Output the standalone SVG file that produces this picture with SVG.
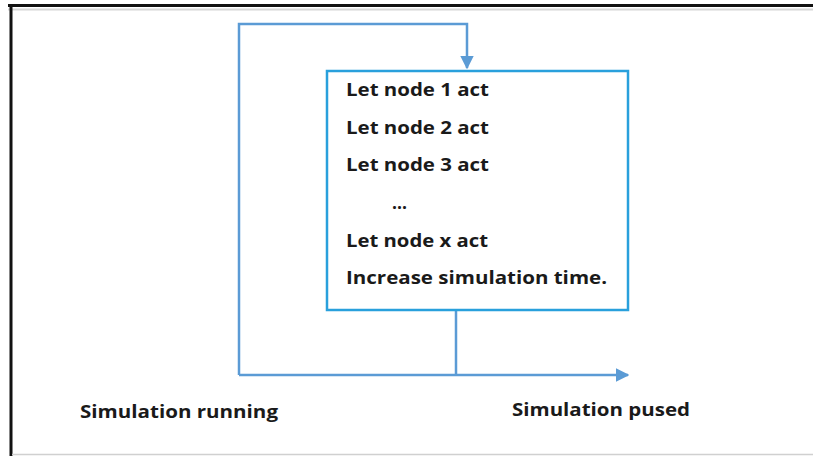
<svg xmlns="http://www.w3.org/2000/svg" width="813" height="456" viewBox="0 0 813 456">
  <style>
    .t { font-family: "Open Sans", "Liberation Sans", sans-serif; font-weight: bold; font-size: 17px; fill: #1a1a1a; }
    .wire { fill: none; stroke: #5b9bd5; stroke-width: 2.5; }
  </style>
  <defs>
    <marker id="head" viewBox="0 0 10 10" refX="9" refY="5" markerWidth="5.5" markerHeight="5.5" markerUnits="strokeWidth" orient="auto">
      <path d="M0,0 L10,5 L0,10 Z" fill="#5b9bd5"/>
    </marker>
  </defs>
  <rect width="813" height="456" fill="#ffffff"/>
  <!-- page frame -->
  <line x1="8" y1="5.5" x2="813" y2="5.5" stroke="#111" stroke-width="3"/>
  <line x1="8" y1="9.5" x2="813" y2="9.5" stroke="#d6d6d6" stroke-width="2"/>
  <line x1="11" y1="4" x2="11" y2="456" stroke="#111" stroke-width="3"/>
  <line x1="12" y1="454.5" x2="813" y2="454.5" stroke="#d0d0d0" stroke-width="1.5"/>

  <g id="connectors">
    <path class="wire" d="M456,311 V375"/>
    <path class="wire" d="M239,375 V24 H467 V68" marker-end="url(#head)"/>
    <path class="wire" d="M239,375 H628" marker-end="url(#head)"/>
  </g>

  <g id="loop-body">
    <rect x="327" y="71" width="301" height="239" fill="#ffffff" stroke="#29a0dc" stroke-width="2.5"/>
    <text class="t" x="346" y="96" textLength="143" lengthAdjust="spacingAndGlyphs">Let node 1 act</text>
    <text class="t" x="346" y="134" textLength="143" lengthAdjust="spacingAndGlyphs">Let node 2 act</text>
    <text class="t" x="346" y="171" textLength="143" lengthAdjust="spacingAndGlyphs">Let node 3 act</text>
    <text class="t" x="392" y="209" textLength="15" lengthAdjust="spacingAndGlyphs">...</text>
    <text class="t" x="346" y="247" textLength="142" lengthAdjust="spacingAndGlyphs">Let node x act</text>
    <text class="t" x="346" y="284" textLength="261" lengthAdjust="spacingAndGlyphs">Increase simulation time.</text>
  </g>

  <g id="label-running">
    <text class="t" x="80" y="418" textLength="198" lengthAdjust="spacingAndGlyphs">Simulation running</text>
  </g>
  <g id="label-paused">
    <text class="t" x="512" y="416" textLength="178" lengthAdjust="spacingAndGlyphs">Simulation pused</text>
  </g>
</svg>
